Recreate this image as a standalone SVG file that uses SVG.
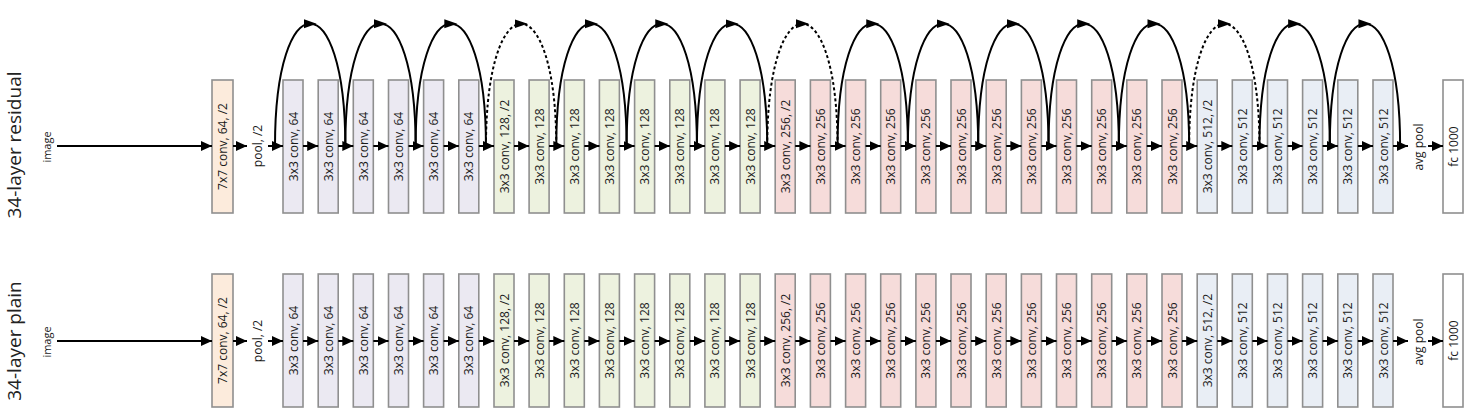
<svg xmlns="http://www.w3.org/2000/svg" width="1472" height="419" viewBox="0 0 1472 419">
<defs>
<style>
.box{stroke:#8f8f8f;stroke-width:1.6}
.c7{fill:#fcebdc}.c64{fill:#ebe9f2}.c128{fill:#edf2df}.c256{fill:#f6dcda}.c512{fill:#e9eef5}.cfc{fill:#ffffff}
text{font-family:"Open Sans","Liberation Sans",Arial,sans-serif;fill:#1a1a1a}
.lbl{font-size:12px;text-anchor:middle}
.title{font-size:19px;text-anchor:middle;fill:#222}
.ar{fill:none;stroke:#000;stroke-width:2;marker-end:url(#ah)}
.skip{fill:none;stroke:#000;stroke-width:2;marker-mid:url(#am)}
.dash{stroke-dasharray:3 2.5}
</style>
<marker id="ah" markerUnits="userSpaceOnUse" markerWidth="12" markerHeight="11" refX="11" refY="5" orient="auto"><path d="M0,0 L11,5 L0,10 z" fill="#000"/></marker>
<marker id="am" markerUnits="userSpaceOnUse" markerWidth="14" markerHeight="10" refX="6.5" refY="4.5" orient="auto"><path d="M0,0 L13,4.5 L0,9 z" fill="#000"/></marker>
<path id="arc" d="M0,146 C0,64.5 17.58,23.75 35.16,23.75 C52.74,23.75 70.32,64.5 70.32,146"/>
</defs>

<text class="title" transform="translate(21,145) rotate(-90)">34-layer residual</text>
<text class="title" transform="translate(21,341) rotate(-90)">34-layer plain</text>

<!-- ===== Residual row nodes ===== -->
<g id="r-image"><text class="lbl" style="font-size:11px" transform="translate(51,147) rotate(-90)">image</text></g>
<g id="r-conv7"><rect class="box c7" x="212" y="80" width="21" height="133"/><text class="lbl" transform="translate(227,146.5) rotate(-90)">7x7 conv, 64, /2</text></g>
<g id="r-pool"><text class="lbl" transform="translate(262,146) rotate(-90)">pool, /2</text></g>
<g id="r-b0"><rect class="box c64" x="283" y="80" width="20" height="133"/><text class="lbl" transform="translate(297.5,146.5) rotate(-90)">3x3 conv, 64</text></g>
<g id="r-b1"><rect class="box c64" x="318.2" y="80" width="20" height="133"/><text class="lbl" transform="translate(332.7,146.5) rotate(-90)">3x3 conv, 64</text></g>
<g id="r-b2"><rect class="box c64" x="353.3" y="80" width="20" height="133"/><text class="lbl" transform="translate(367.8,146.5) rotate(-90)">3x3 conv, 64</text></g>
<g id="r-b3"><rect class="box c64" x="388.5" y="80" width="20" height="133"/><text class="lbl" transform="translate(403,146.5) rotate(-90)">3x3 conv, 64</text></g>
<g id="r-b4"><rect class="box c64" x="423.6" y="80" width="20" height="133"/><text class="lbl" transform="translate(438.1,146.5) rotate(-90)">3x3 conv, 64</text></g>
<g id="r-b5"><rect class="box c64" x="458.8" y="80" width="20" height="133"/><text class="lbl" transform="translate(473.3,146.5) rotate(-90)">3x3 conv, 64</text></g>
<g id="r-b6"><rect class="box c128" x="494" y="80" width="20" height="133"/><text class="lbl" transform="translate(508.5,146.5) rotate(-90)">3x3 conv, 128, /2</text></g>
<g id="r-b7"><rect class="box c128" x="529.1" y="80" width="20" height="133"/><text class="lbl" transform="translate(543.6,146.5) rotate(-90)">3x3 conv, 128</text></g>
<g id="r-b8"><rect class="box c128" x="564.3" y="80" width="20" height="133"/><text class="lbl" transform="translate(578.8,146.5) rotate(-90)">3x3 conv, 128</text></g>
<g id="r-b9"><rect class="box c128" x="599.4" y="80" width="20" height="133"/><text class="lbl" transform="translate(613.9,146.5) rotate(-90)">3x3 conv, 128</text></g>
<g id="r-b10"><rect class="box c128" x="634.6" y="80" width="20" height="133"/><text class="lbl" transform="translate(649.1,146.5) rotate(-90)">3x3 conv, 128</text></g>
<g id="r-b11"><rect class="box c128" x="669.8" y="80" width="20" height="133"/><text class="lbl" transform="translate(684.3,146.5) rotate(-90)">3x3 conv, 128</text></g>
<g id="r-b12"><rect class="box c128" x="704.9" y="80" width="20" height="133"/><text class="lbl" transform="translate(719.4,146.5) rotate(-90)">3x3 conv, 128</text></g>
<g id="r-b13"><rect class="box c128" x="740.1" y="80" width="20" height="133"/><text class="lbl" transform="translate(754.6,146.5) rotate(-90)">3x3 conv, 128</text></g>
<g id="r-b14"><rect class="box c256" x="775.2" y="80" width="20" height="133"/><text class="lbl" transform="translate(789.7,146.5) rotate(-90)">3x3 conv, 256, /2</text></g>
<g id="r-b15"><rect class="box c256" x="810.4" y="80" width="20" height="133"/><text class="lbl" transform="translate(824.9,146.5) rotate(-90)">3x3 conv, 256</text></g>
<g id="r-b16"><rect class="box c256" x="845.6" y="80" width="20" height="133"/><text class="lbl" transform="translate(860.1,146.5) rotate(-90)">3x3 conv, 256</text></g>
<g id="r-b17"><rect class="box c256" x="880.7" y="80" width="20" height="133"/><text class="lbl" transform="translate(895.2,146.5) rotate(-90)">3x3 conv, 256</text></g>
<g id="r-b18"><rect class="box c256" x="915.9" y="80" width="20" height="133"/><text class="lbl" transform="translate(930.4,146.5) rotate(-90)">3x3 conv, 256</text></g>
<g id="r-b19"><rect class="box c256" x="951" y="80" width="20" height="133"/><text class="lbl" transform="translate(965.5,146.5) rotate(-90)">3x3 conv, 256</text></g>
<g id="r-b20"><rect class="box c256" x="986.2" y="80" width="20" height="133"/><text class="lbl" transform="translate(1000.7,146.5) rotate(-90)">3x3 conv, 256</text></g>
<g id="r-b21"><rect class="box c256" x="1021.4" y="80" width="20" height="133"/><text class="lbl" transform="translate(1035.9,146.5) rotate(-90)">3x3 conv, 256</text></g>
<g id="r-b22"><rect class="box c256" x="1056.5" y="80" width="20" height="133"/><text class="lbl" transform="translate(1071,146.5) rotate(-90)">3x3 conv, 256</text></g>
<g id="r-b23"><rect class="box c256" x="1091.7" y="80" width="20" height="133"/><text class="lbl" transform="translate(1106.2,146.5) rotate(-90)">3x3 conv, 256</text></g>
<g id="r-b24"><rect class="box c256" x="1126.8" y="80" width="20" height="133"/><text class="lbl" transform="translate(1141.3,146.5) rotate(-90)">3x3 conv, 256</text></g>
<g id="r-b25"><rect class="box c256" x="1162" y="80" width="20" height="133"/><text class="lbl" transform="translate(1176.5,146.5) rotate(-90)">3x3 conv, 256</text></g>
<g id="r-b26"><rect class="box c512" x="1197.2" y="80" width="20" height="133"/><text class="lbl" transform="translate(1211.7,146.5) rotate(-90)">3x3 conv, 512, /2</text></g>
<g id="r-b27"><rect class="box c512" x="1232.3" y="80" width="20" height="133"/><text class="lbl" transform="translate(1246.8,146.5) rotate(-90)">3x3 conv, 512</text></g>
<g id="r-b28"><rect class="box c512" x="1267.5" y="80" width="20" height="133"/><text class="lbl" transform="translate(1282,146.5) rotate(-90)">3x3 conv, 512</text></g>
<g id="r-b29"><rect class="box c512" x="1302.6" y="80" width="20" height="133"/><text class="lbl" transform="translate(1317.1,146.5) rotate(-90)">3x3 conv, 512</text></g>
<g id="r-b30"><rect class="box c512" x="1337.8" y="80" width="20" height="133"/><text class="lbl" transform="translate(1352.3,146.5) rotate(-90)">3x3 conv, 512</text></g>
<g id="r-b31"><rect class="box c512" x="1373" y="80" width="20" height="133"/><text class="lbl" transform="translate(1387.5,146.5) rotate(-90)">3x3 conv, 512</text></g>
<g id="r-avgpool"><text class="lbl" transform="translate(1423,147) rotate(-90)">avg pool</text></g>
<g id="r-fc"><rect class="box cfc" x="1443" y="80" width="20" height="133"/><text class="lbl" transform="translate(1457.5,146.5) rotate(-90)">fc 1000</text></g>

<!-- ===== Plain row nodes ===== -->
<g id="p-image"><text class="lbl" style="font-size:11px" transform="translate(51,342) rotate(-90)">image</text></g>
<g id="p-conv7"><rect class="box c7" x="212" y="274" width="21" height="133"/><text class="lbl" transform="translate(227,340.5) rotate(-90)">7x7 conv, 64, /2</text></g>
<g id="p-pool"><text class="lbl" transform="translate(262,341) rotate(-90)">pool, /2</text></g>
<g id="p-b0"><rect class="box c64" x="283" y="274" width="20" height="133"/><text class="lbl" transform="translate(297.5,340.5) rotate(-90)">3x3 conv, 64</text></g>
<g id="p-b1"><rect class="box c64" x="318.2" y="274" width="20" height="133"/><text class="lbl" transform="translate(332.7,340.5) rotate(-90)">3x3 conv, 64</text></g>
<g id="p-b2"><rect class="box c64" x="353.3" y="274" width="20" height="133"/><text class="lbl" transform="translate(367.8,340.5) rotate(-90)">3x3 conv, 64</text></g>
<g id="p-b3"><rect class="box c64" x="388.5" y="274" width="20" height="133"/><text class="lbl" transform="translate(403,340.5) rotate(-90)">3x3 conv, 64</text></g>
<g id="p-b4"><rect class="box c64" x="423.6" y="274" width="20" height="133"/><text class="lbl" transform="translate(438.1,340.5) rotate(-90)">3x3 conv, 64</text></g>
<g id="p-b5"><rect class="box c64" x="458.8" y="274" width="20" height="133"/><text class="lbl" transform="translate(473.3,340.5) rotate(-90)">3x3 conv, 64</text></g>
<g id="p-b6"><rect class="box c128" x="494" y="274" width="20" height="133"/><text class="lbl" transform="translate(508.5,340.5) rotate(-90)">3x3 conv, 128, /2</text></g>
<g id="p-b7"><rect class="box c128" x="529.1" y="274" width="20" height="133"/><text class="lbl" transform="translate(543.6,340.5) rotate(-90)">3x3 conv, 128</text></g>
<g id="p-b8"><rect class="box c128" x="564.3" y="274" width="20" height="133"/><text class="lbl" transform="translate(578.8,340.5) rotate(-90)">3x3 conv, 128</text></g>
<g id="p-b9"><rect class="box c128" x="599.4" y="274" width="20" height="133"/><text class="lbl" transform="translate(613.9,340.5) rotate(-90)">3x3 conv, 128</text></g>
<g id="p-b10"><rect class="box c128" x="634.6" y="274" width="20" height="133"/><text class="lbl" transform="translate(649.1,340.5) rotate(-90)">3x3 conv, 128</text></g>
<g id="p-b11"><rect class="box c128" x="669.8" y="274" width="20" height="133"/><text class="lbl" transform="translate(684.3,340.5) rotate(-90)">3x3 conv, 128</text></g>
<g id="p-b12"><rect class="box c128" x="704.9" y="274" width="20" height="133"/><text class="lbl" transform="translate(719.4,340.5) rotate(-90)">3x3 conv, 128</text></g>
<g id="p-b13"><rect class="box c128" x="740.1" y="274" width="20" height="133"/><text class="lbl" transform="translate(754.6,340.5) rotate(-90)">3x3 conv, 128</text></g>
<g id="p-b14"><rect class="box c256" x="775.2" y="274" width="20" height="133"/><text class="lbl" transform="translate(789.7,340.5) rotate(-90)">3x3 conv, 256, /2</text></g>
<g id="p-b15"><rect class="box c256" x="810.4" y="274" width="20" height="133"/><text class="lbl" transform="translate(824.9,340.5) rotate(-90)">3x3 conv, 256</text></g>
<g id="p-b16"><rect class="box c256" x="845.6" y="274" width="20" height="133"/><text class="lbl" transform="translate(860.1,340.5) rotate(-90)">3x3 conv, 256</text></g>
<g id="p-b17"><rect class="box c256" x="880.7" y="274" width="20" height="133"/><text class="lbl" transform="translate(895.2,340.5) rotate(-90)">3x3 conv, 256</text></g>
<g id="p-b18"><rect class="box c256" x="915.9" y="274" width="20" height="133"/><text class="lbl" transform="translate(930.4,340.5) rotate(-90)">3x3 conv, 256</text></g>
<g id="p-b19"><rect class="box c256" x="951" y="274" width="20" height="133"/><text class="lbl" transform="translate(965.5,340.5) rotate(-90)">3x3 conv, 256</text></g>
<g id="p-b20"><rect class="box c256" x="986.2" y="274" width="20" height="133"/><text class="lbl" transform="translate(1000.7,340.5) rotate(-90)">3x3 conv, 256</text></g>
<g id="p-b21"><rect class="box c256" x="1021.4" y="274" width="20" height="133"/><text class="lbl" transform="translate(1035.9,340.5) rotate(-90)">3x3 conv, 256</text></g>
<g id="p-b22"><rect class="box c256" x="1056.5" y="274" width="20" height="133"/><text class="lbl" transform="translate(1071,340.5) rotate(-90)">3x3 conv, 256</text></g>
<g id="p-b23"><rect class="box c256" x="1091.7" y="274" width="20" height="133"/><text class="lbl" transform="translate(1106.2,340.5) rotate(-90)">3x3 conv, 256</text></g>
<g id="p-b24"><rect class="box c256" x="1126.8" y="274" width="20" height="133"/><text class="lbl" transform="translate(1141.3,340.5) rotate(-90)">3x3 conv, 256</text></g>
<g id="p-b25"><rect class="box c256" x="1162" y="274" width="20" height="133"/><text class="lbl" transform="translate(1176.5,340.5) rotate(-90)">3x3 conv, 256</text></g>
<g id="p-b26"><rect class="box c512" x="1197.2" y="274" width="20" height="133"/><text class="lbl" transform="translate(1211.7,340.5) rotate(-90)">3x3 conv, 512, /2</text></g>
<g id="p-b27"><rect class="box c512" x="1232.3" y="274" width="20" height="133"/><text class="lbl" transform="translate(1246.8,340.5) rotate(-90)">3x3 conv, 512</text></g>
<g id="p-b28"><rect class="box c512" x="1267.5" y="274" width="20" height="133"/><text class="lbl" transform="translate(1282,340.5) rotate(-90)">3x3 conv, 512</text></g>
<g id="p-b29"><rect class="box c512" x="1302.6" y="274" width="20" height="133"/><text class="lbl" transform="translate(1317.1,340.5) rotate(-90)">3x3 conv, 512</text></g>
<g id="p-b30"><rect class="box c512" x="1337.8" y="274" width="20" height="133"/><text class="lbl" transform="translate(1352.3,340.5) rotate(-90)">3x3 conv, 512</text></g>
<g id="p-b31"><rect class="box c512" x="1373" y="274" width="20" height="133"/><text class="lbl" transform="translate(1387.5,340.5) rotate(-90)">3x3 conv, 512</text></g>
<g id="p-avgpool"><text class="lbl" transform="translate(1423,342) rotate(-90)">avg pool</text></g>
<g id="p-fc"><rect class="box cfc" x="1443" y="274" width="20" height="133"/><text class="lbl" transform="translate(1457.5,340.5) rotate(-90)">fc 1000</text></g>

<!-- ===== Connectors ===== -->
<g id="connectors">
<g id="r-arrows">
<path class="ar" d="M57,146H212"/><path class="ar" d="M233,146H247"/><path class="ar" d="M268,146H283"/>
<path class="ar" d="M303,146H318.2"/><path class="ar" d="M338.2,146H353.3"/><path class="ar" d="M373.3,146H388.5"/><path class="ar" d="M408.5,146H423.6"/><path class="ar" d="M443.6,146H458.8"/><path class="ar" d="M478.8,146H494"/><path class="ar" d="M514,146H529.1"/><path class="ar" d="M549.1,146H564.3"/><path class="ar" d="M584.3,146H599.4"/><path class="ar" d="M619.4,146H634.6"/><path class="ar" d="M654.6,146H669.8"/><path class="ar" d="M689.8,146H704.9"/><path class="ar" d="M724.9,146H740.1"/><path class="ar" d="M760.1,146H775.2"/><path class="ar" d="M795.2,146H810.4"/><path class="ar" d="M830.4,146H845.6"/><path class="ar" d="M865.6,146H880.7"/><path class="ar" d="M900.7,146H915.9"/><path class="ar" d="M935.9,146H951"/><path class="ar" d="M971,146H986.2"/><path class="ar" d="M1006.2,146H1021.4"/><path class="ar" d="M1041.4,146H1056.5"/><path class="ar" d="M1076.5,146H1091.7"/><path class="ar" d="M1111.7,146H1126.8"/><path class="ar" d="M1146.8,146H1162"/><path class="ar" d="M1182,146H1197.2"/><path class="ar" d="M1217.2,146H1232.3"/><path class="ar" d="M1252.3,146H1267.5"/><path class="ar" d="M1287.5,146H1302.6"/><path class="ar" d="M1322.6,146H1337.8"/><path class="ar" d="M1357.8,146H1373"/>
<path class="ar" d="M1393,146H1408"/><path class="ar" d="M1428,146H1443"/>
</g>
<g id="r-shortcuts">
<use href="#arc" class="skip" transform="translate(275,0)"/>
<use href="#arc" class="skip" transform="translate(345.32,0)"/>
<use href="#arc" class="skip" transform="translate(415.64,0)"/>
<use href="#arc" class="skip dash" transform="translate(485.96,0)"/>
<use href="#arc" class="skip" transform="translate(556.28,0)"/>
<use href="#arc" class="skip" transform="translate(626.6,0)"/>
<use href="#arc" class="skip" transform="translate(696.92,0)"/>
<use href="#arc" class="skip dash" transform="translate(767.24,0)"/>
<use href="#arc" class="skip" transform="translate(837.56,0)"/>
<use href="#arc" class="skip" transform="translate(907.88,0)"/>
<use href="#arc" class="skip" transform="translate(978.2,0)"/>
<use href="#arc" class="skip" transform="translate(1048.52,0)"/>
<use href="#arc" class="skip" transform="translate(1118.84,0)"/>
<use href="#arc" class="skip dash" transform="translate(1189.16,0)"/>
<use href="#arc" class="skip" transform="translate(1259.48,0)"/>
<use href="#arc" class="skip" transform="translate(1329.8,0)"/>
</g>
<g id="p-arrows">
<path class="ar" d="M57,341H212"/><path class="ar" d="M233,341H247"/><path class="ar" d="M268,341H283"/>
<path class="ar" d="M303,341H318.2"/><path class="ar" d="M338.2,341H353.3"/><path class="ar" d="M373.3,341H388.5"/><path class="ar" d="M408.5,341H423.6"/><path class="ar" d="M443.6,341H458.8"/><path class="ar" d="M478.8,341H494"/><path class="ar" d="M514,341H529.1"/><path class="ar" d="M549.1,341H564.3"/><path class="ar" d="M584.3,341H599.4"/><path class="ar" d="M619.4,341H634.6"/><path class="ar" d="M654.6,341H669.8"/><path class="ar" d="M689.8,341H704.9"/><path class="ar" d="M724.9,341H740.1"/><path class="ar" d="M760.1,341H775.2"/><path class="ar" d="M795.2,341H810.4"/><path class="ar" d="M830.4,341H845.6"/><path class="ar" d="M865.6,341H880.7"/><path class="ar" d="M900.7,341H915.9"/><path class="ar" d="M935.9,341H951"/><path class="ar" d="M971,341H986.2"/><path class="ar" d="M1006.2,341H1021.4"/><path class="ar" d="M1041.4,341H1056.5"/><path class="ar" d="M1076.5,341H1091.7"/><path class="ar" d="M1111.7,341H1126.8"/><path class="ar" d="M1146.8,341H1162"/><path class="ar" d="M1182,341H1197.2"/><path class="ar" d="M1217.2,341H1232.3"/><path class="ar" d="M1252.3,341H1267.5"/><path class="ar" d="M1287.5,341H1302.6"/><path class="ar" d="M1322.6,341H1337.8"/><path class="ar" d="M1357.8,341H1373"/>
<path class="ar" d="M1393,341H1408"/><path class="ar" d="M1428,341H1443"/>
</g>
</g>
</svg>
